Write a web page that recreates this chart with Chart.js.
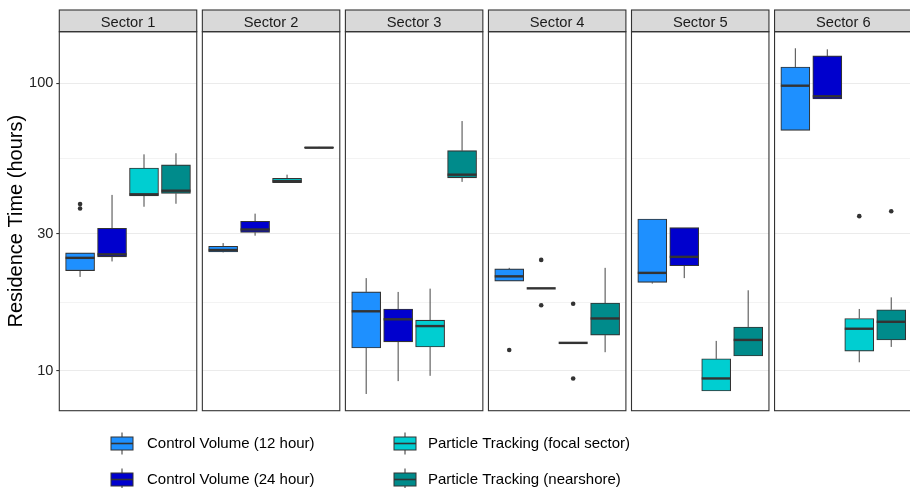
<!DOCTYPE html>
<html>
<head>
<meta charset="utf-8">
<script src="https://cdn.jsdelivr.net/npm/chart.js@4/dist/chart.umd.min.js"></script>
<style>
  html, body { margin: 0; padding: 0; background: #ffffff; overflow: hidden; }
  #wrap { position: relative; width: 910px; height: 488px; overflow: hidden; }
  #chart { position: absolute; left: 0; top: 0; }
</style>
</head>
<body>
<div id="wrap"><canvas id="chart" width="916" height="488"></canvas></div>
<script>
// ---- data -------------------------------------------------------------
const sectors = ['Sector 1', 'Sector 2', 'Sector 3', 'Sector 4', 'Sector 5', 'Sector 6'];
const seriesNames = [
  'Control Volume (12 hour)',
  'Control Volume (24 hour)',
  'Particle Tracking (focal sector)',
  'Particle Tracking (nearshore)'
];
// five-number summaries per sector: [lower whisker, Q1, median, Q3, upper whisker] (hours)
const cv12 = [
  [21.2, 22.3, 24.7, 25.7, 25.7],
  [25.8, 25.9, 26.3, 27.1, 27.8],
  [8.3, 12.0, 16.1, 18.8, 21.0],
  [20.5, 20.5, 21.3, 22.6, 22.8],
  [20.1, 20.3, 21.9, 33.7, 33.7],
  [68.6, 68.6, 98.1, 113.9, 132.4]
];
const cv24 = [
  [24.0, 24.9, 25.4, 31.3, 40.9],
  [29.5, 30.3, 31.0, 33.1, 35.2],
  [9.2, 12.6, 15.1, 16.4, 18.8],
  [19.35, 19.35, 19.35, 19.35, 19.35],
  [21.0, 23.2, 24.9, 31.45, 31.45],
  [88.2, 88.2, 90.1, 124.5, 131.3]
];
const ptFocal = [
  [37.2, 40.6, 41.1, 50.7, 56.6],
  [45.0, 45.1, 45.7, 46.7, 48.1],
  [9.6, 12.1, 14.3, 15.0, 19.3],
  [12.5, 12.5, 12.5, 12.5, 12.5],
  [8.5, 8.5, 9.4, 11.0, 12.7],
  [10.7, 11.7, 14.0, 15.2, 16.4]
];
const ptNear = [
  [38.1, 41.4, 42.3, 52.0, 57.1],
  [59.7, 59.7, 59.7, 59.9, 60.1],
  [45.4, 46.9, 48.1, 58.3, 73.9],
  [11.6, 13.3, 15.2, 17.2, 22.8],
  [11.25, 11.25, 12.8, 14.2, 19.05],
  [12.1, 12.8, 14.8, 16.3, 18.0]
];
// outlying observations per sector
const cv12Out   = [[36.7, 38.0], [], [], [11.8], [], []];
const cv24Out   = [[], [], [], [24.3, 16.9], [], []];
const ptFocalOut = [[], [], [], [17.1, 9.4], [], [34.5]];
const ptNearOut  = [[], [], [], [], [], [35.9]];

const yTicks = [10, 30, 100];
// minor grid lines sit halfway between labelled breaks on the log axis
const yMinor = [Math.sqrt(10 * 30), Math.sqrt(30 * 100)];

// ---- styling ----------------------------------------------------------
const seriesColors = ['#1E90FF', '#0000CD', '#00CED1', '#008B8B'];
const LINE = '#333333';
const FONT = "'Liberation Sans', Arial, Helvetica, sans-serif";
Chart.defaults.font.family = FONT;

// facet geometry in x-scale units: each panel holds four slots
const PANEL_W = 4.3;
const PANEL_GAP = 0.1753;
const SLOT_OFFSET = 0.65;
const PERIOD = PANEL_W + PANEL_GAP;
const X_MAX = (sectors.length - 1) * PERIOD + PANEL_W;
const xCenter = (k, j) => k * PERIOD + SLOT_OFFSET + j;

const allStats = [cv12, cv24, ptFocal, ptNear];
const allOut = [cv12Out, cv24Out, ptFocalOut, ptNearOut];

const boxDatasets = allStats.map((stats, j) => ({
  type: 'bar',
  label: seriesNames[j],
  data: stats.map((s, k) => ({ x: xCenter(k, j), y: [s[1], s[3]] })),
  backgroundColor: seriesColors[j],
  borderColor: LINE,
  borderWidth: 1.1,
  borderSkipped: false,
  barThickness: 29,
  grouped: false,
  order: 1
}));

const outlierPoints = [];
allOut.forEach((perSector, j) => {
  perSector.forEach((vals, k) => {
    vals.forEach(v => outlierPoints.push({ x: xCenter(k, j), y: v }));
  });
});

const outlierDataset = {
  type: 'scatter',
  label: 'outliers',
  data: outlierPoints,
  pointRadius: 2.3,
  pointBackgroundColor: LINE,
  pointBorderWidth: 0,
  order: 0
};

// ---- facet / boxplot decorations --------------------------------------
const facetPlugin = {
  id: 'facets',
  beforeDatasetsDraw(chart) {
    const { ctx, chartArea: ca, scales: { x, y } } = chart;
    ctx.save();
    // clear the grid between panels
    ctx.fillStyle = '#ffffff';
    for (let k = 0; k < sectors.length - 1; k++) {
      const r = x.getPixelForValue(k * PERIOD + PANEL_W);
      const l = x.getPixelForValue((k + 1) * PERIOD);
      ctx.fillRect(r, ca.top - 1, l - r, ca.bottom - ca.top + 2);
    }
    // whiskers
    ctx.strokeStyle = '#444444';
    ctx.lineWidth = 1;
    allStats.forEach((stats, j) => {
      const meta = chart.getDatasetMeta(j);
      stats.forEach((s, k) => {
        const el = meta.data[k];
        const cx = el.x;
        ctx.beginPath();
        ctx.moveTo(cx, y.getPixelForValue(s[3]));
        ctx.lineTo(cx, y.getPixelForValue(s[4]));
        ctx.moveTo(cx, y.getPixelForValue(s[1]));
        ctx.lineTo(cx, y.getPixelForValue(s[0]));
        ctx.stroke();
      });
    });
    ctx.restore();
  },
  afterDatasetsDraw(chart) {
    const { ctx, chartArea: ca, scales: { x, y } } = chart;
    ctx.save();
    // medians
    ctx.strokeStyle = LINE;
    ctx.lineWidth = 2.4;
    allStats.forEach((stats, j) => {
      const meta = chart.getDatasetMeta(j);
      stats.forEach((s, k) => {
        const el = meta.data[k];
        const py = y.getPixelForValue(s[2]);
        ctx.beginPath();
        ctx.moveTo(el.x - el.width / 2, py);
        ctx.lineTo(el.x + el.width / 2, py);
        ctx.stroke();
      });
    });
    // panel borders and strips
    const stripTop = 10;
    sectors.forEach((name, k) => {
      const l = x.getPixelForValue(k * PERIOD);
      const r = x.getPixelForValue(k * PERIOD + PANEL_W);
      ctx.fillStyle = '#D9D9D9';
      ctx.fillRect(l, stripTop, r - l, ca.top - stripTop);
      ctx.strokeStyle = LINE;
      ctx.lineWidth = 1.1;
      ctx.strokeRect(l, stripTop, r - l, ca.top - stripTop);
      ctx.strokeRect(l, ca.top, r - l, ca.bottom - ca.top);
      ctx.fillStyle = '#1A1A1A';
      ctx.font = '14.7px ' + FONT;
      ctx.textAlign = 'center';
      ctx.textBaseline = 'alphabetic';
      ctx.fillText(name, (l + r) / 2, 26.5);
    });
    ctx.restore();
  },
  afterDraw(chart) {
    const { ctx } = chart;
    ctx.save();
    const colGlyph = [111, 394];
    const colText = [147, 428];
    const rowY = [443.5, 479.5];
    seriesNames.forEach((name, j) => {
      const col = Math.floor(j / 2), row = j % 2;
      const gx = colGlyph[col], gy = rowY[row];
      const w = 22, h = 13;
      ctx.strokeStyle = LINE;
      ctx.lineWidth = 1;
      ctx.beginPath();
      ctx.moveTo(gx + w / 2, gy - 11);
      ctx.lineTo(gx + w / 2, gy + 11);
      ctx.stroke();
      ctx.fillStyle = seriesColors[j];
      ctx.fillRect(gx, gy - h / 2, w, h);
      ctx.strokeRect(gx, gy - h / 2, w, h);
      ctx.lineWidth = 1.6;
      ctx.beginPath();
      ctx.moveTo(gx, gy);
      ctx.lineTo(gx + w, gy);
      ctx.stroke();
      ctx.fillStyle = '#000000';
      ctx.font = '15px ' + FONT;
      ctx.textAlign = 'left';
      ctx.textBaseline = 'middle';
      ctx.fillText(name, colText[col], gy);
    });
    ctx.restore();
  }
};

new Chart(document.getElementById('chart'), {
  type: 'bar',
  data: { datasets: [...boxDatasets, outlierDataset] },
  options: {
    responsive: false,
    animation: false,
    events: [],
    layout: { padding: { left: 0, right: 3.9, top: 31.7, bottom: 77.3 } },
    plugins: { legend: { display: false }, tooltip: { enabled: false } },
    scales: {
      x: {
        type: 'linear',
        display: false,
        min: 0,
        max: X_MAX,
        offset: false,
        grid: { display: false }
      },
      y: {
        type: 'logarithmic',
        min: 7.26,
        max: 151.2,
        afterFit(scale) { scale.width = 59.3; },
        afterBuildTicks(scale) {
          scale.ticks = [...yTicks, ...yMinor].sort((a, b) => a - b).map(v => ({ value: v }));
        },
        ticks: {
          autoSkip: false,
          padding: 3,
          color: '#222222',
          font: { size: 14.5 },
          callback: (v) => (yTicks.includes(v) ? String(v) : '')
        },
        grid: {
          color: '#EBEBEB',
          lineWidth: (c) => (c.tick && yTicks.includes(c.tick.value) ? 1.1 : 0.6),
          tickColor: (c) => (c.tick && yTicks.includes(c.tick.value) ? LINE : 'rgba(0,0,0,0)'),
          tickLength: 3,
          drawTicks: true
        },
        border: { display: false },
        title: {
          display: true,
          text: 'Residence Time (hours)',
          color: '#000000',
          font: { size: 20 },
          padding: { top: 4.5, bottom: 0 }
        }
      }
    }
  },
  plugins: [facetPlugin]
});
</script>
</body>
</html>
